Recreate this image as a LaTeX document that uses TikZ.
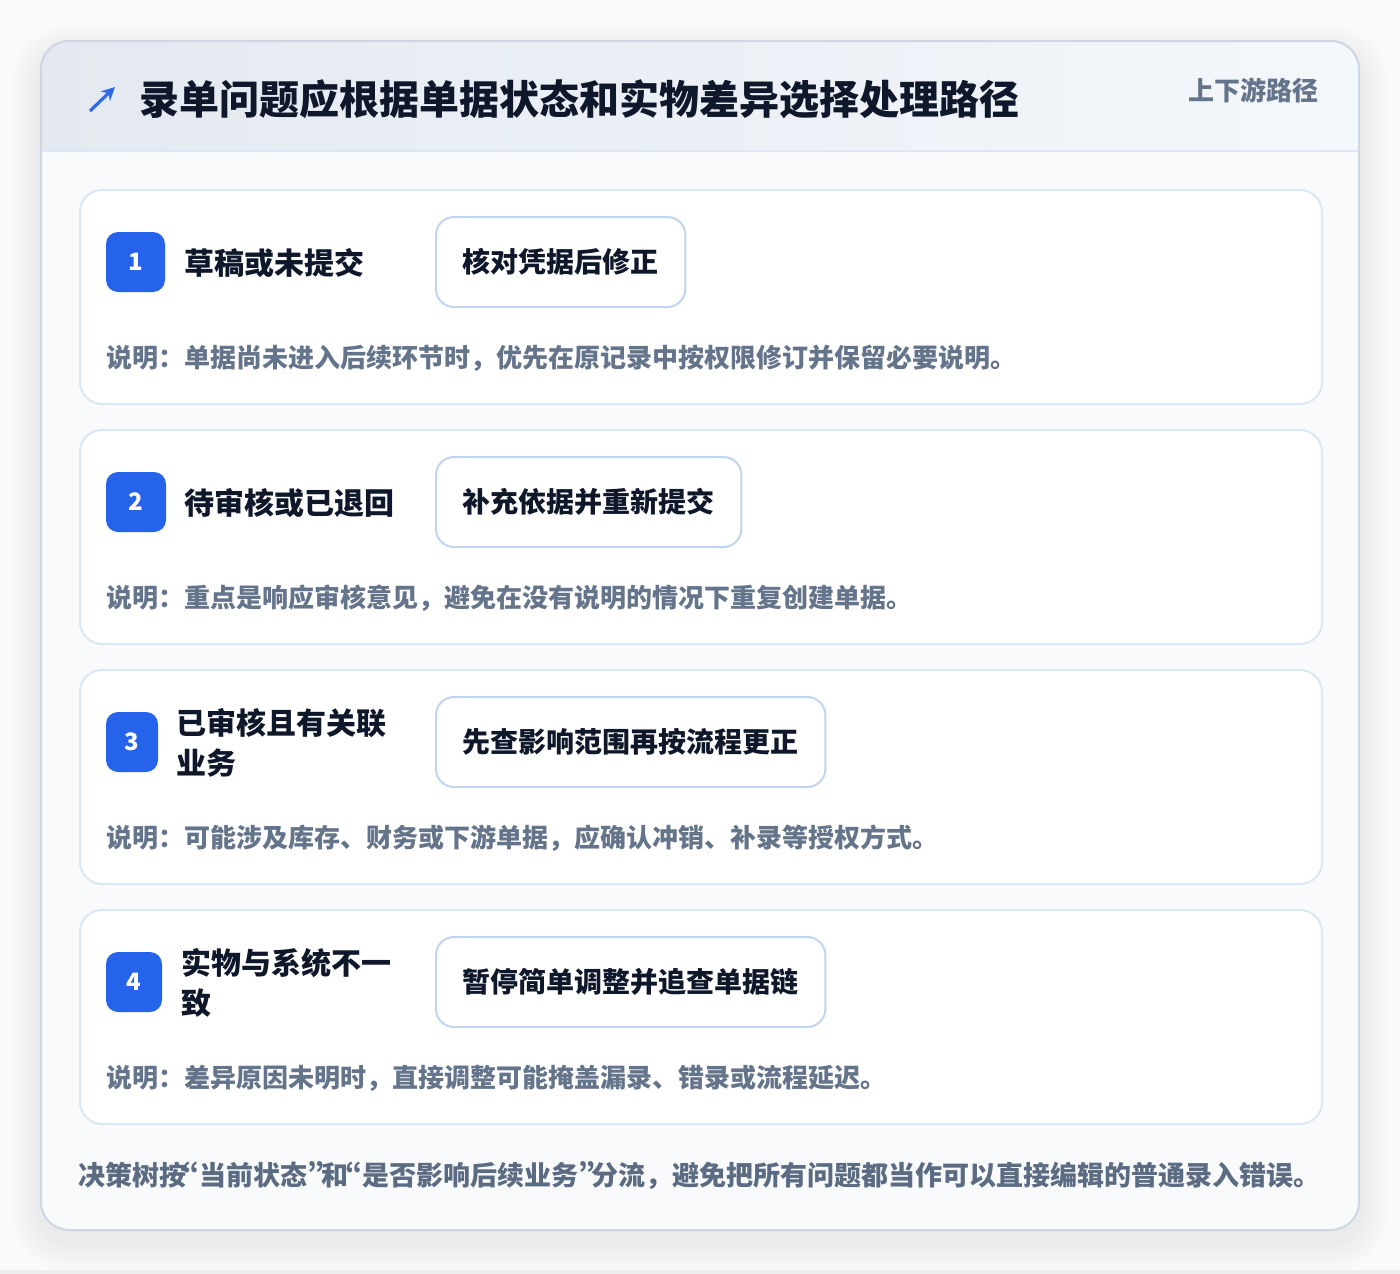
\documentclass[tikz,border=0pt]{standalone}
\usepackage{fontspec}
\setmainfont{Noto Sans CJK SC}
\newfontfamily\qfont{Noto Sans CJK SC}[RawFeature=+pwid]
\newcommand{\myLq}{{\kern-2.6pt\qfont “}}
\newcommand{\myRq}{{\qfont ”\kern-2.6pt}}
\usetikzlibrary{arrows.meta}
\definecolor{bgc}{HTML}{FAFAFB}
\definecolor{bodyc}{HTML}{F8FAFC}
\definecolor{outerline}{HTML}{CDD6E2}
\definecolor{hdrL}{HTML}{E4E9F1}
\definecolor{hdrR}{HTML}{F4F7FB}
\definecolor{hdrline}{HTML}{DCE7F5}
\definecolor{cardline}{HTML}{DCE7F6}
\definecolor{actline}{HTML}{BFD5F1}
\definecolor{badgec}{HTML}{2563EB}
\definecolor{titlec}{HTML}{0F172A}
\definecolor{descc}{HTML}{64748B}
\definecolor{footc}{HTML}{5B6B82}
\definecolor{iconc}{HTML}{2F6BE6}
\begin{document}
\begin{tikzpicture}[x=0.75pt,y=-0.75pt,
  cardbox/.style={draw=cardline, line width=1.5pt, fill=white, rounded corners=16.5pt,
    anchor=north west, minimum width=931.5pt, minimum height=160.5pt, inner sep=0pt},
  badge/.style={fill=badgec, rounded corners=9pt, minimum height=45pt, inner sep=0pt,
    text=white, font=\fontsize{18pt}{20pt}\selectfont\bfseries},
  lbl/.style={anchor=west, inner sep=0pt, text=titlec, align=left,
    font=\fontsize{22.5pt}{30pt}\selectfont\bfseries},
  act/.style={anchor=west, draw=actline, line width=1.5pt, fill=white, rounded corners=13.5pt,
    minimum height=67.5pt, inner xsep=20pt, inner ysep=0pt, text=titlec,
    font=\fontsize{21pt}{25pt}\selectfont\bfseries},
  desc/.style={anchor=west, inner sep=0pt, text=descc, font=\fontsize{19.5pt}{24pt}\selectfont\bfseries},
  foot/.style={anchor=west, inner sep=0pt, text=footc, font=\fontsize{20.25pt}{24pt}\selectfont\bfseries},
  shadowlayer/.style={fill=black, opacity=0.005}
]
\useasboundingbox (0,0) rectangle (1400,1274);
\fill[bgc] (0,0) rectangle (1400,1274);
\fill[white!93!black] (0,1270) rectangle (1400,1274);
% outer card shadow
\foreach \s in {2,4,...,30} {
  \pgfmathsetmacro{\rc}{21+0.75*\s}
  \fill[shadowlayer, rounded corners=\rc pt] (41-\s,41-\s+12) rectangle (1359+\s,1230+\s+12);
}
\path[fill=bodyc, rounded corners=21pt] (41,41) rectangle (1359,1230);
\begin{scope}
  \clip[rounded corners=21pt] (41,41) rectangle (1359,1230);
  \shade[left color=hdrL, right color=hdrR] (41,41) rectangle (1359,151);
\end{scope}
\draw[hdrline, line width=1.5pt] (42,151) -- (1358,151);
\draw[outerline, line width=1.5pt, rounded corners=21pt] (41,41) rectangle (1359,1230);
% header
\coordinate (iconA) at (90,111);
\coordinate (iconB) at (115,87);
\draw[iconc, line width=2.4pt, -{Stealth[length=10pt,width=10pt]}] (iconA) -- (iconB);
\node[anchor=west, inner sep=0pt, text=titlec, font=\fontsize{30pt}{36pt}\selectfont\bfseries] (title) at (139,99)
  {录单问题应根据单据状态和实物差异选择处理路径};
\node[anchor=east, inner sep=0pt, text=descc, font=\fontsize{19.5pt}{24pt}\selectfont\bfseries] (tag) at (1319,90)
  {上下游路径};
% action box shadows
\foreach \y/\w in {262/250, 502/306, 742/390, 982/390} {
  \foreach \s in {2,4,...,12} {
    \pgfmathsetmacro{\rc}{13.5+0.75*\s}
    \fill[fill=black, opacity=0.005, rounded corners=\rc pt]
      (435-\s,\y-45-\s+8) rectangle (435+\w+\s,\y+45+\s+8);
  }
}
% card 1
\node[cardbox] (c1) at (79,189) {};
\node[badge, minimum width=44.25pt] (b1) at (135.5,262) {1};
\node[lbl] (l1) at (184,263) {草稿或未提交};
\node[act] (a1) at (435,262) {核对凭据后修正};
\node[desc] (d1) at (106,358) {说明：单据尚未进入后续环节时，优先在原记录中按权限修订并保留必要说明。};
% card 2
\node[cardbox] (c2) at (79,429) {};
\node[badge, minimum width=45pt] (b2) at (136,502) {2};
\node[lbl] (l2) at (184,503) {待审核或已退回};
\node[act] (a2) at (435,502) {补充依据并重新提交};
\node[desc] (d2) at (106,598) {说明：重点是响应审核意见，避免在没有说明的情况下重复创建单据。};
% card 3
\node[cardbox] (c3) at (79,669) {};
\node[badge, minimum width=39pt] (b3) at (132,742) {3};
\node[lbl] (l3) at (176,743) {已审核且有关联\\业务};
\node[act] (a3) at (435,742) {先查影响范围再按流程更正};
\node[desc] (d3) at (106,838) {说明：可能涉及库存、财务或下游单据，应确认冲销、补录等授权方式。};
% card 4
\node[cardbox] (c4) at (79,909) {};
\node[badge, minimum width=42pt] (b4) at (134,982) {4};
\node[lbl] (l4) at (181,983) {实物与系统不一\\致};
\node[act] (a4) at (435,982) {暂停简单调整并追查单据链};
\node[desc] (d4) at (106,1078) {说明：差异原因未明时，直接调整可能掩盖漏录、错录或流程延迟。};
% footer
\node[foot] (ft) at (78,1176) {决策树按\myLq 当前状态\myRq 和\myLq 是否影响后续业务\myRq 分流，避免把所有问题都当作可以直接编辑的普通录入错误。};
\end{tikzpicture}
\end{document}
